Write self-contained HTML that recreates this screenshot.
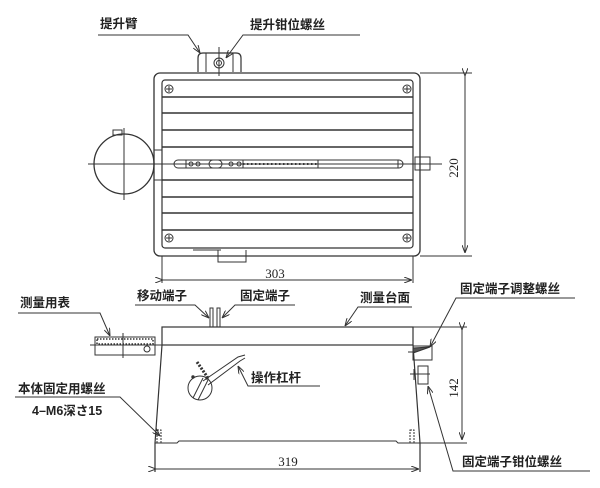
<!DOCTYPE html>
<html><head><meta charset="utf-8"><style>
html,body{margin:0;padding:0;background:#fff}
svg{display:block}
.t{font-family:"Liberation Sans","Noto Sans CJK SC",sans-serif;font-size:12.5px;font-weight:bold;fill:#222}
.d{font-family:"Liberation Serif",serif;font-size:13px;fill:#222}
</style></head><body>
<svg width="600" height="488" viewBox="0 0 600 488" xmlns="http://www.w3.org/2000/svg">
<defs>
<marker id="a" markerWidth="8" markerHeight="6" refX="8" refY="3" orient="auto" markerUnits="userSpaceOnUse"><path d="M0,0 L8,3 L0,6" fill="none" stroke="#333" stroke-width="1"/></marker>
</defs>
<g stroke="#333" stroke-width="1" fill="none">
<!-- TOP VIEW -->
<rect x="154" y="73" width="266" height="183" rx="6" stroke-width="1.3"/>
<rect x="162" y="80" width="251" height="168" rx="3" stroke-width="1.2"/>
<g stroke-width="1.5">
<line x1="162" y1="97" x2="413" y2="97"/><line x1="162" y1="113" x2="413" y2="113"/>
<line x1="162" y1="130" x2="413" y2="130"/><line x1="162" y1="147" x2="413" y2="147"/>
<line x1="162" y1="180" x2="413" y2="180"/><line x1="162" y1="197" x2="413" y2="197"/>
<line x1="162" y1="213" x2="413" y2="213"/><line x1="162" y1="230" x2="413" y2="230"/>
</g>
<g>
<circle cx="169" cy="89" r="4"/><path d="M166,89h6M169,86v6"/>
<circle cx="407" cy="89" r="4"/><path d="M404,89h6M407,86v6"/>
<circle cx="169" cy="238" r="4"/><path d="M166,238h6M169,235v6"/>
<circle cx="407" cy="238" r="4"/><path d="M404,238h6M407,235v6"/>
</g>
<!-- dial circle -->
<circle cx="124" cy="164" r="30" stroke-width="1.3"/>
<line x1="124" y1="128" x2="124" y2="200"/>
<rect x="113" y="130" width="9" height="5"/>
<rect x="154" y="150" width="8" height="30"/>
<line x1="88" y1="164" x2="442" y2="164"/>
<!-- slot -->
<rect x="174" y="160" width="229" height="8" rx="4"/>
<rect x="186" y="160" width="57" height="8"/>
<circle cx="191" cy="164" r="2"/><circle cx="198" cy="164" r="2"/>
<circle cx="231" cy="164" r="2"/><circle cx="239" cy="164" r="2"/>
<path d="M213,160 a4,4 0 0 0 0,8 M218,160 a4,4 0 0 1 0,8"/>
<line x1="243" y1="164" x2="318" y2="164" stroke-dasharray="1.5,2.5" stroke-width="2"/>
<rect x="318" y="160" width="80" height="8"/>
<rect x="415" y="157" width="15" height="13"/>
<!-- lift arm -->
<path d="M198,72 v-14 q0,-5 5,-5 h33 q5,0 5,5 v14" stroke-width="1.2"/>
<path d="M206,53v19 M233,53v19"/>
<circle cx="219" cy="63" r="5"/><circle cx="219" cy="63" r="2.5"/>
<line x1="219" y1="47" x2="219" y2="76"/>
<!-- latch below -->
<path d="M193,250 h28 M193,256 h28 M218,250 v12 h28 v-12"/>
<!-- dims top -->
<line x1="420" y1="73" x2="472" y2="73"/><line x1="420" y1="256" x2="472" y2="256"/>
<line x1="465" y1="76" x2="465" y2="253" marker-start="url(#a)" marker-end="url(#a)"/>
<line x1="162" y1="256" x2="162" y2="283"/><line x1="413" y1="256" x2="413" y2="283"/>
<line x1="163" y1="280" x2="412" y2="280" marker-start="url(#a)" marker-end="url(#a)"/>
<!-- top labels leaders -->
<polyline points="98,35 188,35 200,53" marker-end="url(#a)"/>
<polyline points="360,35 243,35 226,58" marker-end="url(#a)"/>

<!-- FRONT VIEW -->
<rect x="162" y="327" width="251" height="18" stroke-width="1.2"/>
<path d="M162,345 L155,443 L155,472" stroke-width="1.2"/>
<path d="M413,345 L420,443 L420,472" stroke-width="1.2"/>
<path d="M155,443 h22 l2,-2 h217 l2,2 h22"/>
<rect x="157" y="430" width="4" height="13" stroke-dasharray="2,1"/>
<rect x="410" y="430" width="4" height="13" stroke-dasharray="2,1"/>
<line x1="156" y1="469" x2="419" y2="469" marker-start="url(#a)" marker-end="url(#a)"/>
<line x1="413" y1="327" x2="467" y2="327"/><line x1="420" y1="443" x2="467" y2="443"/>
<line x1="462" y1="330" x2="462" y2="440" marker-start="url(#a)" marker-end="url(#a)"/>
<!-- gauge -->
<rect x="95" y="337" width="60" height="18"/>
<rect x="97" y="339" width="56" height="5" stroke-dasharray="1.5,1.5" stroke-width="1.5"/>
<line x1="90" y1="345" x2="175" y2="345"/>
<line x1="123" y1="333" x2="123" y2="358"/>
<circle cx="147" cy="349" r="3"/>
<!-- terminals -->
<rect x="210" y="308" width="3" height="19"/><rect x="217" y="308" width="3" height="19"/>
<!-- lever -->
<circle cx="200" cy="388" r="12"/>
<path d="M193,398 l10,-20 M198,400 l10,-20 M203,381 L238,357 L245,355 M208,385 L240,361 L245,358"/>
<line x1="197" y1="362" x2="208" y2="378" stroke-width="3" stroke-dasharray="2,1.5"/>
<circle cx="193" cy="377" r="1.2" fill="#333"/><circle cx="207" cy="378" r="1.2" fill="#333"/>
<!-- right screws -->
<rect x="413" y="346" width="19" height="14"/>
<path d="M413,348 l17,-1 l-17,6z" fill="#555"/>
<line x1="408" y1="352" x2="416" y2="352"/>
<rect x="418" y="366" width="10" height="18"/>
<line x1="410" y1="374" x2="430" y2="374"/><line x1="414" y1="369" x2="414" y2="380"/>
<!-- front leaders -->
<polyline points="18,313 100,313 110,336" marker-end="url(#a)"/>
<polyline points="135,305 195,305 209,318" marker-end="url(#a)"/>
<polyline points="295,305 235,305 222,318" marker-end="url(#a)"/>
<polyline points="412,307 358,307 345,326" marker-end="url(#a)"/>
<polyline points="320,386 248,386 238,366" marker-end="url(#a)"/>
<polyline points="15,397 120,397 160,436" marker-end="url(#a)"/>
<polyline points="575,298 456,298 430,347" marker-end="url(#a)"/>
<polyline points="590,471 453,471 428,386" marker-end="url(#a)"/>
</g>
<g class="t">
<text x="100" y="28">提升臂</text>
<text x="250" y="29">提升钳位螺丝</text>
<text x="20" y="307">测量用表</text>
<text x="137" y="300">移动端子</text>
<text x="240" y="300">固定端子</text>
<text x="360" y="302">测量台面</text>
<text x="460" y="293">固定端子调整螺丝</text>
<text x="251" y="382">操作杠杆</text>
<text x="18" y="393">本体固定用螺丝</text>
<text x="32" y="415">4–M6深さ15</text>
<text x="462" y="466">固定端子钳位螺丝</text>
</g>
<g class="d">
<text x="275" y="278" text-anchor="middle">303</text>
<text x="288" y="466" text-anchor="middle">319</text>
<text transform="translate(458,168) rotate(-90)" text-anchor="middle">220</text>
<text transform="translate(458,388) rotate(-90)" text-anchor="middle">142</text>
</g>
</svg>
</body></html>
